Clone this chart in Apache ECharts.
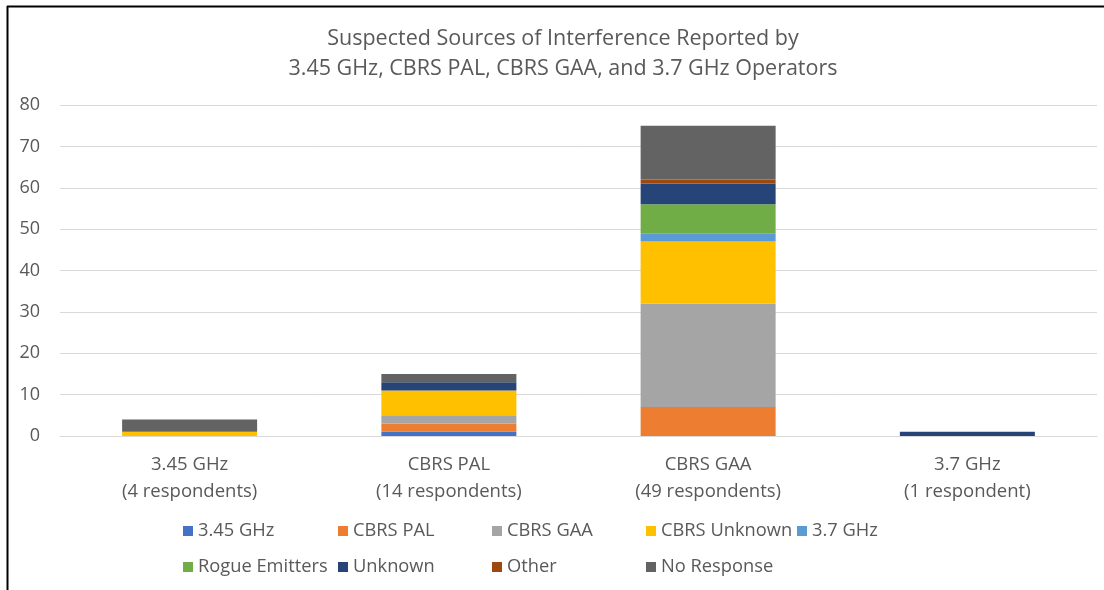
<!DOCTYPE html>
<html>
<head>
<meta charset="utf-8">
<script src="https://cdn.jsdelivr.net/npm/echarts@6/dist/echarts.min.js"></script>
<style>html,body{margin:0;padding:0;background:#fff;}#c{width:1104px;height:590px;}</style>
</head>
<body>
<div id="c"></div>
<script>
const categories = ['3.45 GHz\n(4 respondents)', 'CBRS PAL\n(14 respondents)', 'CBRS GAA\n(49 respondents)', '3.7 GHz\n(1 respondent)'];
const seriesNames = ['3.45 GHz', 'CBRS PAL', 'CBRS GAA', 'CBRS Unknown', '3.7 GHz', 'Rogue Emitters', 'Unknown', 'Other', 'No Response'];
const seriesColors = ['#4472C4', '#ED7D31', '#A5A5A5', '#FFC000', '#5B9BD5', '#70AD47', '#264478', '#9E480E', '#636363'];
const v345 = [0, 1, 0, 0];
const vPAL = [0, 2, 7, 0];
const vGAA = [0, 2, 25, 0];
const vCBRSUnknown = [1, 6, 15, 0];
const v37 = [0, 0, 2, 0];
const vRogue = [0, 0, 7, 0];
const vUnknown = [0, 2, 5, 1];
const vOther = [0, 0, 1, 0];
const vNoResponse = [3, 2, 13, 0];
const yTicks = [0, 10, 20, 30, 40, 50, 60, 70, 80];

const values = [v345, vPAL, vGAA, vCBRSUnknown, v37, vRogue, vUnknown, vOther, vNoResponse];
const FONT = 'Open Sans';
const TXT = '#595959';

const legendPos = [[183,522],[338,522],[492,522],[646,522],[797,522],[183,558],[338,558],[492,558],[646,558]];
const legends = seriesNames.map((n, i) => ({
  data: [n], left: legendPos[i][0], top: legendPos[i][1],
  itemWidth: 10, itemHeight: 10, itemGap: 4, icon: 'rect', padding: 0,
  textStyle: { color: TXT, fontSize: 18.3, fontFamily: FONT }
}));

const chart = echarts.init(document.getElementById('c'));
chart.setOption({
  animation: false,
  backgroundColor: '#fff',
  title: {
    text: 'Suspected Sources of Interference Reported by\n3.45 GHz, CBRS PAL, CBRS GAA, and 3.7 GHz Operators',
    left: 558, top: 19, textAlign: 'center',
    textStyle: { color: TXT, fontSize: 21.5, fontWeight: 'normal', fontFamily: FONT, lineHeight: 30 }
  },
  legend: legends,
  grid: { left: 60, right: 7, top: 105, bottom: 154 },
  xAxis: {
    type: 'category', data: categories,
    axisLine: { lineStyle: { color: '#D9D9D9' } },
    axisTick: { show: false },
    axisLabel: { color: TXT, fontSize: 18.5, fontFamily: FONT, lineHeight: 27, margin: 15 }
  },
  yAxis: {
    type: 'value', min: yTicks[0], max: yTicks[yTicks.length - 1], interval: 10,
    axisLine: { show: false }, axisTick: { show: false },
    splitLine: { lineStyle: { color: '#D9D9D9', width: 1 } },
    axisLabel: { color: TXT, fontSize: 18, fontFamily: FONT, margin: 20 }
  },
  series: seriesNames.map((n, i) => ({
    name: n, type: 'bar', stack: 'all', barWidth: 135,
    itemStyle: { color: seriesColors[i] },
    data: values[i]
  })),
  graphic: [
    { type: 'line', shape: { x1: 7.5, y1: 6, x2: 7.5, y2: 590 }, style: { stroke: '#000', lineWidth: 2 } },
    { type: 'line', shape: { x1: 7, y1: 6.5, x2: 1104, y2: 6.5 }, style: { stroke: '#000', lineWidth: 2 } }
  ]
});
</script>
</body>
</html>
